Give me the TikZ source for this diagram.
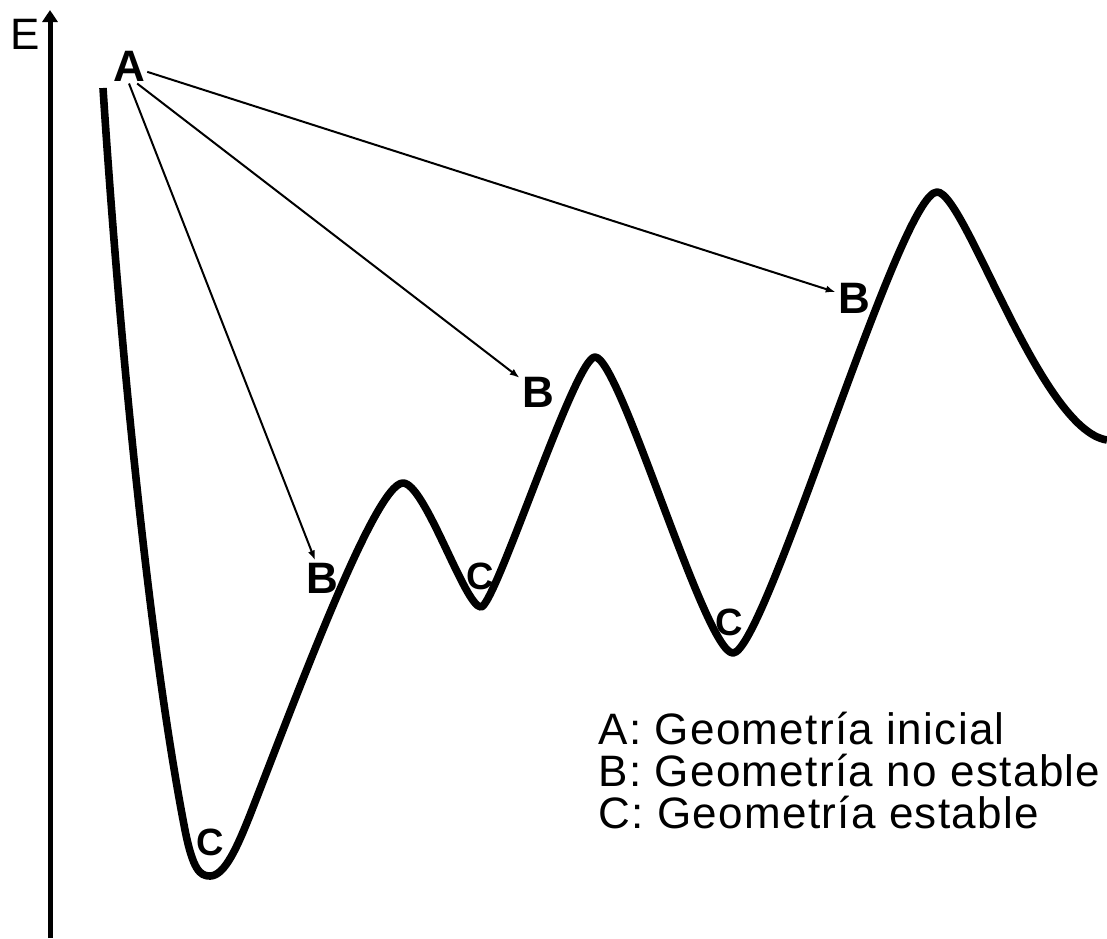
\documentclass[tikz,border=0pt]{standalone}
\usepackage{fontspec}
\setmainfont{Liberation Sans}
\newfontfamily\legendfont[LetterSpace=3.0]{Liberation Sans}
\usepackage{tikz}
\usetikzlibrary{arrows.meta,positioning}

\tikzset{
    lbl/.style={font=\fontsize{22}{24}\selectfont\bfseries, inner sep=1pt},
    lblc/.style={font=\fontsize{19}{21}\selectfont\bfseries, inner sep=1pt},
    jump/.style={line width=1pt, -{Latex[length=5pt,width=3.6pt]}}
}

\begin{document}
\begin{tikzpicture}[x=0.5pt, y=-0.5pt]
    \useasboundingbox (0,0) rectangle (1107,938);

    % Axis
    \coordinate (origin) at (50,938);
    \coordinate (top) at (50,10);
    \draw[line width=2.5pt, -{Triangle[length=6pt,width=7.5pt]}] (origin) -- (top);
    \node[font=\fontsize{22}{24}\selectfont, inner sep=0pt] (E) at (25,34) {E};

    % Energy profile
    \draw[line width=3.8pt, line join=round]
        (103,88) .. controls (120,350) and (150,650) .. (185,830)
        .. controls (193,870) and (200,876) .. (210,876)
        .. controls (225,876) and (238,845) .. (250,815)
        .. controls (295,700) and (375,483) .. (403,483)
        .. controls (425,483) and (465,607) .. (481,607)
        .. controls (495,607) and (575,357) .. (595,357)
        .. controls (620,357) and (705,653) .. (733,653)
        .. controls (765,653) and (900,192) .. (937,192)
        .. controls (965,192) and (1040,430) .. (1107,440);

    % Labels
    \node[lbl] (A) at (129,66) {A};
    \node[lbl] (B1) at (322,578) {B};
    \node[lbl] (B2) at (538,392) {B};
    \node[lbl] (B3) at (854,298) {B};
    \node[lblc] (C1) at (210,842) {C};
    \node[lblc] (C2) at (480,576) {C};
    \node[lblc] (C3) at (729,622) {C};

    % Jumps from the initial geometry
    \draw[jump] (A.south) -- (B1);
    \draw[jump] (A.-65) -- (B2);
    \draw[jump] (A) -- (B3);

    % Legend
    \node[anchor=north west, align=left, inner sep=0pt,
          font=\legendfont\fontsize{22}{21}\selectfont] (legend) at (598,712)
        {A: Geometría inicial\\B: Geometría no estable\\C: Geometría estable};
\end{tikzpicture}
\end{document}
